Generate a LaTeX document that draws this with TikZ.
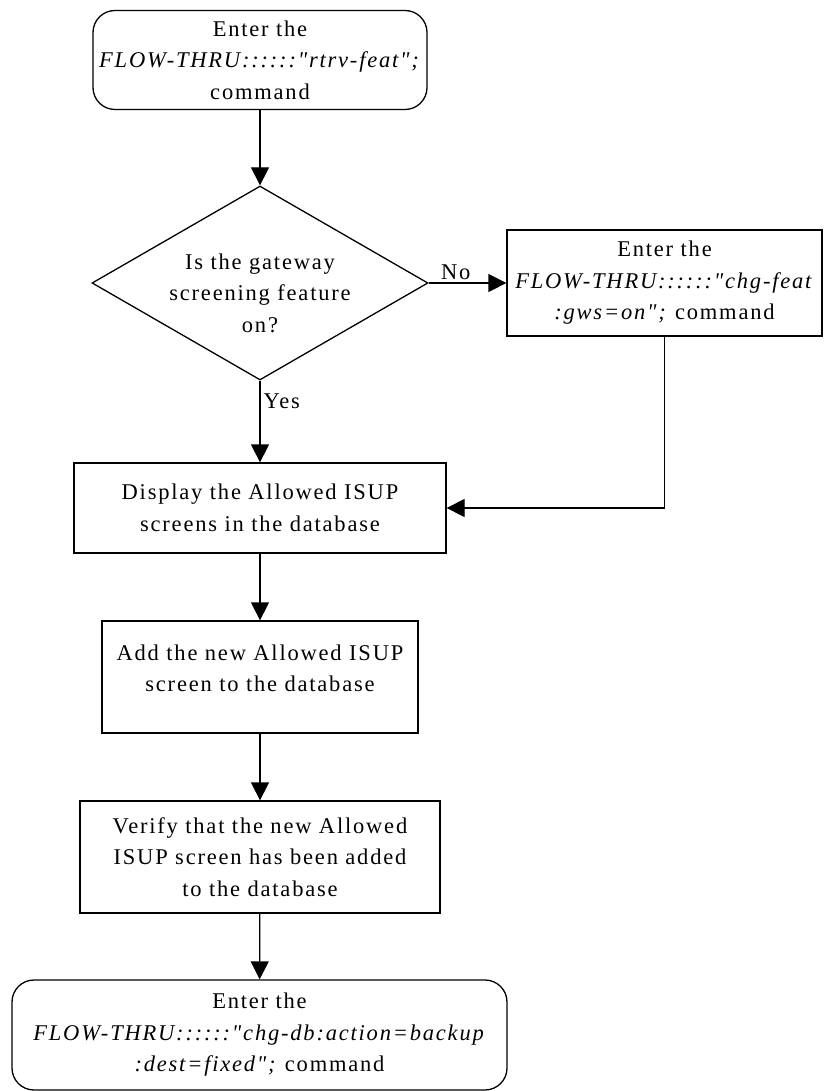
\documentclass[tikz,border=0pt]{standalone}
\usepackage{fontspec}
\setmainfont[LetterSpace=8,Ligatures=TeXOff]{Liberation Serif}
\usetikzlibrary{shapes.geometric,arrows.meta}
\begin{document}
\begin{tikzpicture}[x=1pt,y=1pt,
  font=\fontsize{22.5}{31.5}\selectfont,
  line width=1.3pt,
  box/.style={draw, rectangle, align=center, inner sep=0pt},
  term/.style={box, rounded corners=22pt},
  flow/.style={-{Triangle[length=18pt,width=18pt]}},
  lbl/.style={inner sep=3pt}]
\useasboundingbox (0,0) rectangle (827,-1091);

\node[term, minimum width=334pt, minimum height=99pt] (start) at (260,-60)
  {Enter the\\\textit{FLOW-THRU::::::"rtrv-feat";}\\command};

\node[draw, diamond, inner sep=0pt, minimum width=336pt, minimum height=194pt] (dec) at (260,-283) {};
\node[align=center] (dectext) at (260,-293) {Is the gateway\\screening feature\\on?};

\node[box, minimum width=315pt, minimum height=106pt] (chg) at (664.5,-283)
  {Enter the\\\textit{FLOW-THRU::::::"chg-feat}\\\textit{:gws=on";} command};

\node[box, minimum width=372pt, minimum height=90pt] (disp) at (260,-508)
  {Display the Allowed ISUP\\screens in the database};

\node[box, minimum width=316pt, minimum height=112pt, text depth=18pt] (add) at (260,-677)
  {Add the new Allowed ISUP\\screen to the database};

\node[box, minimum width=360pt, minimum height=112pt] (ver) at (260,-857)
  {Verify that the new Allowed\\ISUP screen has been added\\to the database};

\node[term, minimum width=495pt, minimum height=110pt] (end) at (259.5,-1035)
  {Enter the\\\textit{FLOW-THRU::::::"chg-db:action=backup}\\\textit{:dest=fixed";} command};

\draw[flow] (start) -- (dec);
\draw[flow] (dec.east) -- node[lbl, above, pos=0.35] {No} (chg.west);
\draw[flow] (dec.south) -- node[lbl, right, pos=0.25] {Yes} (disp.north);
\draw[flow] (chg.south) |- (disp.east);
\draw[flow] (disp) -- (add);
\draw[flow] (add) -- (ver);
\draw[flow] (ver) -- (end);
\end{tikzpicture}
\end{document}
